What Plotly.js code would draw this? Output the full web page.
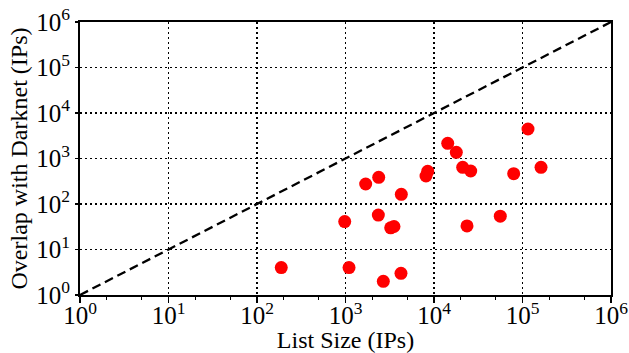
<!DOCTYPE html>
<html>
<head>
<meta charset="utf-8">
<script src="https://cdn.plot.ly/plotly-3.0.1.min.js"></script>
<style>html,body{margin:0;padding:0;background:#fff;}#chart{width:629px;height:353px;}</style>
</head>
<body>
<div id="chart"></div>
<script>
// List size (IPs) vs overlap with darknet (IPs)
const listSize = [188, 980, 1096, 1690, 2372, 2350, 3240, 3530, 2675, 4273, 4236, 8120, 8490, 14290, 17870, 21100, 23600, 25990, 56100, 79500, 115400, 161900];
const overlap  = [4, 41, 4, 275, 386, 57, 30, 32, 2, 163, 3, 412, 523, 2158, 1368, 641, 33, 531, 54, 463, 4450, 641];
const diagX = [1, 1000000];
const diagY = [1, 1000000];
const tickVals = [1, 10, 100, 1000, 10000, 100000, 1000000];
const tickText = ['10<sup>0</sup>', '10<sup>1</sup>', '10<sup>2</sup>', '10<sup>3</sup>', '10<sup>4</sup>', '10<sup>5</sup>', '10<sup>6</sup>'];

const traces = [
  {x: diagX, y: diagY, mode: 'lines', type: 'scatter',
   line: {color: '#000', width: 2.3, dash: '9px,5px'}, hoverinfo: 'skip', showlegend: false},
  {x: listSize, y: overlap, mode: 'markers', type: 'scatter',
   marker: {color: '#ff0000', size: 13, line: {width: 0}}, showlegend: false}
];

const axisCommon = {
  type: 'log',
  range: [0, 6],
  tickvals: tickVals,
  ticktext: tickText,
  showgrid: true,
  gridcolor: '#000',
  gridwidth: 1.3,
  griddash: '2px,3px',
  zeroline: false,
  showline: true,
  linecolor: '#000',
  linewidth: 2,
  mirror: true,
  ticks: 'outside',
  tickcolor: '#000',
  tickwidth: 1.5,
  tickfont: {family: 'Liberation Serif', color: '#000', size: 25},
};

const layout = {
  width: 629, height: 353,
  margin: {l: 80, r: 18, t: 22, b: 58},
  paper_bgcolor: '#fff', plot_bgcolor: '#fff',
  showlegend: false,
  xaxis: Object.assign({}, axisCommon, {
    ticklen: 6,
    ticklabelstandoff: -9,
    minor: {ticks: 'outside', ticklen: 3, tickcolor: '#000', tickwidth: 1, showgrid: false},
    title: {text: 'List Size (IPs)', font: {family: 'Liberation Serif', color: '#000', size: 24}, standoff: 4}
  }),
  yaxis: Object.assign({}, axisCommon, {
    ticklen: 3,
    title: {text: 'Overlap with Darknet (IPs)', font: {family: 'Liberation Serif', color: '#000', size: 24}, standoff: 2}
  })
};

Plotly.newPlot('chart', traces, layout, {staticPlot: true, displayModeBar: false});
</script>
</body>
</html>
